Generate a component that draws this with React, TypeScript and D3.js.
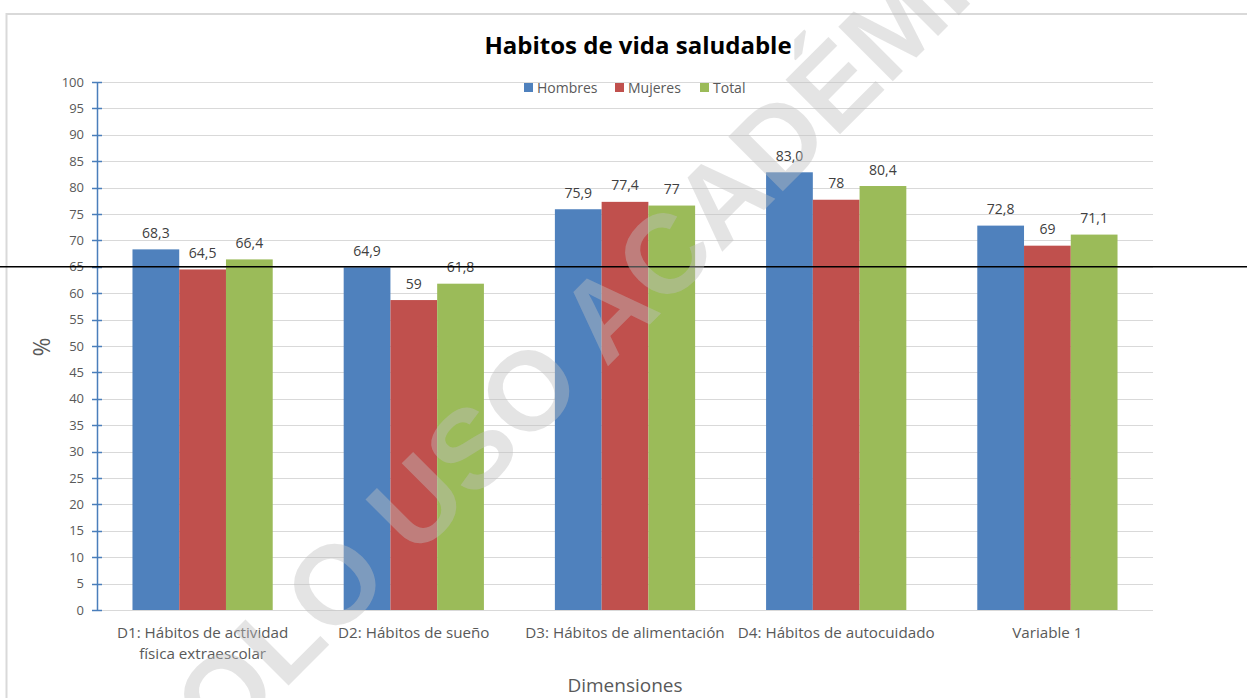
import React from "react";
import * as d3 from "d3";

const categories: string[][] = [
  ["D1: Hábitos de actividad", "física extraescolar"],
  ["D2: Hábitos de sueño"],
  ["D3: Hábitos de alimentación"],
  ["D4: Hábitos de autocuidado"],
  ["Variable 1"],
];
const seriesNames = ["Hombres", "Mujeres", "Total"];
const seriesColors = ["#4f81bd", "#c0504d", "#9bbb59"];
const hombres = [68.3, 64.9, 75.9, 82.9, 72.8];
const mujeres = [64.5, 58.7, 77.3, 77.7, 69.0];
const total = [66.4, 61.8, 76.6, 80.3, 71.1];
const hombresLabels = ["68,3", "64,9", "75,9", "83,0", "72,8"];
const mujeresLabels = ["64,5", "59", "77,4", "78", "69"];
const totalLabels = ["66,4", "61,8", "77", "80,4", "71,1"];
const yTicks = d3.range(0, 101, 5);
const referenceValue = 65;
const title = "Habitos de vida saludable";
const xTitle = "Dimensiones";
const yTitle = "%";
const watermark = "SOLO USO ACADÉMICO";

const W = 1247;
const H = 698;
const FONT = "'Open Sans', 'Noto Sans', sans-serif";

export default function App() {
  const seriesValues = [hombres, mujeres, total];
  const seriesLabels = [hombresLabels, mujeresLabels, totalLabels];
  const catKeys = categories.map((c) => c.join(" "));

  const left = 97;
  const right = 1153;
  const top = 82;
  const bottom = 610;

  const y = d3.scaleLinear().domain([0, 100]).range([bottom, top]);
  const x0 = d3
    .scaleBand<string>()
    .domain(catKeys)
    .range([left, right])
    .paddingInner(0.336)
    .paddingOuter(0.168);
  const x1 = d3
    .scaleBand<string>()
    .domain(seriesNames)
    .range([0, x0.bandwidth()]);

  const legendItems = [
    { name: "Hombres", x: 524, tx: 537 },
    { name: "Mujeres", x: 615, tx: 628 },
    { name: "Total", x: 700, tx: 713 },
  ];

  return (
    <svg
      width={W}
      height={H}
      style={{ position: "absolute", left: 0, top: 0, background: "#fff" }}
      fontFamily={FONT}
    >
      <rect x={0} y={0} width={W} height={H} fill="#fff" />
      <rect
        x={6.5}
        y={14}
        width={W + 20}
        height={H + 20}
        fill="#fff"
        stroke="#d9d9d9"
        strokeWidth={2}
      />
      {/* gridlines */}
      {yTicks.map((t) => (
        <line
          key={"g" + t}
          x1={left}
          x2={right}
          y1={Math.round(y(t)) + 0.5}
          y2={Math.round(y(t)) + 0.5}
          stroke="#d9d9d9"
          strokeWidth={1}
        />
      ))}
      {/* bars */}
      {catKeys.map((ck, ci) => (
        <g key={ck} transform={`translate(${x0(ck)},0)`}>
          {seriesNames.map((s, si) => (
            <rect
              key={s}
              x={x1(s)}
              y={y(seriesValues[si][ci])}
              width={x1.bandwidth()}
              height={bottom - y(seriesValues[si][ci])}
              fill={seriesColors[si]}
            />
          ))}
          {seriesNames.map((s, si) => (
            <text
              key={"l" + s}
              x={(x1(s) as number) + x1.bandwidth() / 2}
              y={y(seriesValues[si][ci]) - 11.5}
              textAnchor="middle"
              fontSize={14}
              fill="#404040"
            >
              {seriesLabels[si][ci]}
            </text>
          ))}
        </g>
      ))}
      {/* y axis */}
      <line x1={left + 0.5} x2={left + 0.5} y1={top} y2={bottom} stroke="#4a7ebb" strokeWidth={1.5} />
      {yTicks.map((t) => (
        <g key={"t" + t}>
          <line
            x1={left - 5}
            x2={left + 5}
            y1={Math.round(y(t)) + 0.5}
            y2={Math.round(y(t)) + 0.5}
            stroke="#4a7ebb"
            strokeWidth={1.5}
          />
          <text
            x={84}
            y={y(t)}
            dy="0.35em"
            textAnchor="end"
            fontSize={13}
            fill="#595959"
          >
            {t}
          </text>
        </g>
      ))}
      {/* x category labels */}
      {categories.map((lines, ci) => (
        <text
          key={"c" + ci}
          x={(x0(catKeys[ci]) as number) + x0.bandwidth() / 2}
          y={638}
          textAnchor="middle"
          fontSize={15.2}
          fill="#595959"
        >
          {lines.map((ln, li) => (
            <tspan key={li} x={(x0(catKeys[ci]) as number) + x0.bandwidth() / 2} dy={li === 0 ? 0 : 21}>
              {ln}
            </tspan>
          ))}
        </text>
      ))}
      {/* reference line */}
      <line x1={0} x2={W} y1={y(referenceValue)} y2={y(referenceValue)} stroke="#000" strokeWidth={1.5} />
      {/* title */}
      <text x={638} y={54} textAnchor="middle" fontSize={24} fontWeight="bold" fill="#000">
        {title}
      </text>
      {/* legend */}
      {legendItems.map((it, i) => (
        <g key={it.name}>
          <rect x={it.x} y={83} width={9} height={9} fill={seriesColors[i]} />
          <text x={it.tx} y={92.5} fontSize={14} fill="#595959">
            {seriesNames[i]}
          </text>
        </g>
      ))}
      {/* axis titles */}
      <text x={625} y={692} textAnchor="middle" fontSize={19} fill="#595959">
        {xTitle}
      </text>
      <text
        transform={`translate(50,347) rotate(-90)`}
        textAnchor="middle"
        fontSize={23}
        fill="#595959"
      >
        {yTitle}
      </text>
      {/* watermark */}
      <text
        transform={`translate(603,314) rotate(-45)`}
        textAnchor="middle"
        dy="0.36em"
        fontSize={112}
        fontWeight="bold"
        fontFamily="'Liberation Sans', Arial, sans-serif"
        fill="#bfbfbf"
        fillOpacity={0.42}
      >
        {watermark}
      </text>
    </svg>
  );
}
